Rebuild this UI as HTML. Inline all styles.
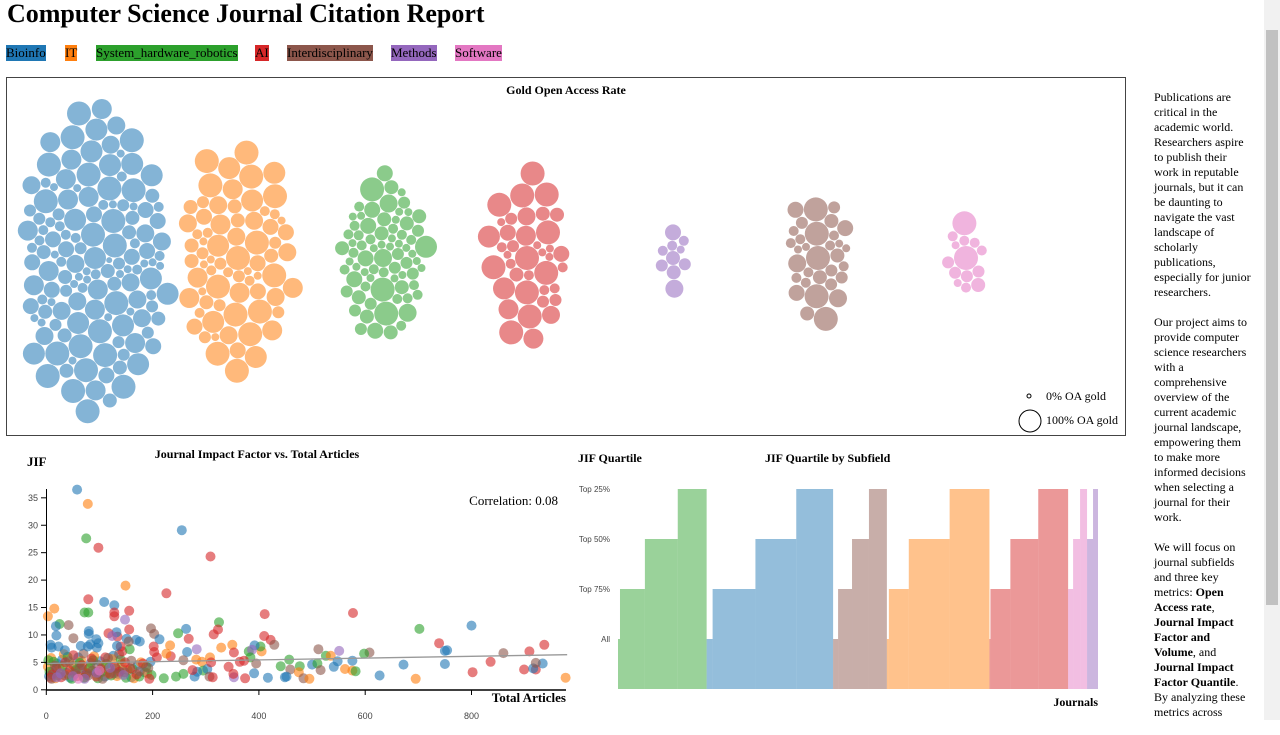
<!DOCTYPE html>
<html><head><meta charset="utf-8"><style>
html,body{margin:0;padding:0;width:1280px;height:720px;overflow:hidden;background:#fff;font-family:"Liberation Serif",serif;}
#title{position:absolute;left:7px;top:-1px;font-size:26px;font-weight:bold;margin:0;}
.chip{position:absolute;top:45px;font-size:13px;line-height:16px;padding:0;}
#side{position:absolute;left:1154px;top:90px;width:97px;font-size:12px;line-height:15px;}
#side p{margin:0 0 15px 0;}
#track{position:absolute;left:1264px;top:0;width:16px;height:720px;background:#f1f1f1;}
#thumb{position:absolute;left:1266px;top:30px;width:12px;height:575px;background:#c1c1c1;}
svg{position:absolute;left:0;top:0;}
</style></head><body>
<h1 id="title">Computer Science Journal Citation Report</h1>
<div>
<span class="chip" style="left:6px;background:#1f77b4">Bioinfo</span>
<span class="chip" style="left:65px;background:#ff7f0e">IT</span>
<span class="chip" style="left:96px;background:#2ca02c">System_hardware_robotics</span>
<span class="chip" style="left:255px;background:#d62728">AI</span>
<span class="chip" style="left:287px;background:#8c564b">Interdisciplinary</span>
<span class="chip" style="left:391px;background:#9467bd">Methods</span>
<span class="chip" style="left:455px;background:#e377c2">Software</span>
</div>
<div id="side">
<p>Publications are critical in the academic world. Researchers aspire to publish their work in reputable journals, but it can be daunting to navigate the vast landscape of scholarly publications, especially for junior researchers.</p>
<p>Our project aims to provide computer science researchers with a comprehensive overview of the current academic journal landscape, empowering them to make more informed decisions when selecting a journal for their work.</p>
<p>We will focus on journal subfields and three key metrics: <b>Open Access rate</b>, <b>Journal Impact Factor and Volume</b>, and <b>Journal Impact Factor Quantile</b>. By analyzing these metrics across</p>
</div>
<div id="track"></div>
<div id="thumb"></div>
<svg id="chart" width="1280" height="720"></svg>
<script>
const NS="http://www.w3.org/2000/svg";
const svg=document.getElementById('chart');
function mk(tag,attrs,parent){const e=document.createElementNS(NS,tag);for(const k in attrs)e.setAttribute(k,attrs[k]);(parent||svg).appendChild(e);return e;}
const COL={b:"#1f77b4",o:"#ff7f0e",g:"#2ca02c",r:"#d62728",p:"#9467bd",n:"#8c564b",k:"#e377c2"};

// ---------- Bubble chart data (OA rate in tenths, a = 10) ----------
const bubbleGroups=["b","o","g","r","p","n","k"];
const bubbleCenters=[95,238,383,527,673,818,966];
const oaBlue="9a3285a42736a285319a4726385a2934a7263852a4937265a832946a2738a5294736a8253a9472638a5294736a28539a4726385a2946a3728a5394726a38529a4736285a9";
const oaOrange="a4738a2956a3847a2659a3748a2563a9472a3856a2947a3658a2749a3568a247394a2856";
const oaGreen="73225324a4263252362a25334236227343562523a342523732435226342593423453236254";
const oaRed="a83a52a4723a6293a4a25a8234a6a3729a458a3";
const oaPurple="5532643473";
const oaBrown="a5a33a4275343a3524637243a3563426";
const oaPink="a4334a42353243";
const oaSeries=[oaBlue,oaOrange,oaGreen,oaRed,oaPurple,oaBrown,oaPink];
const bubbleCY=258;
function rOf(v){return 2+v*1.0;}
const gBub=mk('g',{});


mk('rect',{x:6.5,y:77.5,width:1119,height:358,fill:'none',stroke:'#444','stroke-width':1},gBub);
const bt=mk('text',{x:566,y:94,'text-anchor':'middle','font-size':12,'font-weight':'bold'},gBub);bt.textContent="Gold Open Access Rate";


oaSeries.forEach((str,gi)=>{
  const vals=str.split('').map(c=>c==='a'?10:parseInt(c,10));
  const cx=bubbleCenters[gi];const placed=[];
  vals.forEach(v=>{
    const r=rOf(v);let done=false;
    for(let s=0;s<500&&!done;s+=0.4){
      const n=Math.max(1,Math.ceil(2*Math.PI*s/0.8));
      for(let i=0;i<n;i++){
        const th=i/n*2*Math.PI+s*0.37;
        const x=cx+s*0.5*Math.cos(th),y=bubbleCY+s*Math.sin(th);
        let ok=true;
        for(const q of placed){const dx=q.x-x,dy=q.y-y;if(dx*dx+dy*dy<(q.r+r+0.3)*(q.r+r+0.3)){ok=false;break;}}
        if(ok){placed.push({x,y,r});done=true;break;}
      }
    }
  });
  placed.forEach(p=>{
    const c=mk('circle',{cx:p.x.toFixed(1),cy:p.y.toFixed(1),r:p.r,fill:COL[bubbleGroups[gi]],'fill-opacity':0.55},gBub);
    
    
  });
});
const l1=mk('circle',{cx:1029,cy:396,r:2,fill:'none',stroke:'#000'},gBub);


const l2=mk('circle',{cx:1030,cy:421,r:11,fill:'none',stroke:'#000'},gBub);


let t=mk('text',{x:1046,y:400,'font-size':12},gBub);t.textContent="0% OA gold";


t=mk('text',{x:1046,y:424,'font-size':12},gBub);t.textContent="100% OA gold";



// ---------- Scatter data ----------
const xTicks=[0,200,400,600,800];
const yTicks=[0,5,10,15,20,25,30,35];
const trendStart=4.8, trendEnd=6.4, trendMax=980;
const ptColors="bogrbrorrbbooggrrrpgrrngbbgnnrgbrrrnrpbboorrrbbnnpnggoogg"+"bprrgnbgggnobbnobbgnbbobogbbobrrrrbbnoorrrrobnoogbnrorrprrrbbgggrrrrbrpbgbbrnnb";
const ptX=[58,78,75,98,255,309,149,226,79,109,128,15,3,72,79,128,128,156,148,325,411,577,42,25,18,263,248,197,203,323,702,800,315,410,422,429,268,283,213,176,350,329,739,937,909,750,754,860,512,551,608,598,526,535,405,403,
381,392,387,353,364,384,395,391,457,441,477,459,475,452,449,484,495,417,500,510,516,541,548,562,576,576,582,627,672,695,750,802,836,899,921,916,934,921,977,233,202,203,208,234,226,265,258,282,293,295,303,307,313,308,310,343,353,352,372,374,284,279,221,244,258,275,140,143,134,132,117,124,133,157,169,151,156,155,51,83,78,95,65,94,80,80,19,10,8,23,35,98];
const ptY=[36.5,33.9,27.6,25.9,29.1,24.3,19,17.6,16.5,16,15.4,14.8,13.4,14.1,14.1,14.1,13.4,14.4,12.8,12.3,13.8,14,11.8,12,11.6,11.1,10.3,11.2,10.2,11,11.1,11.7,10.1,9.8,9.1,8.2,9.3,7.4,9.2,8.8,8.2,7.7,8.5,8.2,7,7.1,7.2,6.7,7.4,7.1,6.8,6.6,6.2,6.2,7,7.9,
7,8.1,7.3,6.8,5.1,5.9,4.8,3,5.5,4.3,4.3,3.7,3.2,2.4,2.3,2.1,2,2.2,4.6,4.8,3.6,4.2,5.2,3.8,5.3,3.5,3.4,2.6,4.6,2,4.7,3.2,5.1,3.7,3.7,3.9,4.8,4.9,2.2,8.1,7.9,6.9,5.9,6.1,6.6,6.9,5.4,5.5,5.1,3.5,3.8,2.4,2.3,5.9,5,4.2,2.3,2.9,5.3,2.1,3.3,2.4,2.1,2.4,2.9,3.6,7.9,7,9.7,10.5,10.3,9.8,8,7.4,9.1,9.3,11,8.8,9.4,8.3,7.9,7.7,8,9.2,10.7,10.2,9.9,7.7,8.2,7.9,7.2,8.5];
const clusterColors="bbbbbbbbbbbbbbbbbbbbbboooooooooooooooooooooogggggggggggggggggggggggrrrrrrrrrrrrrrrrrrrrrrnnnnnnnnnnnnnnnnnnnpppppppkkk";
const clusterX=[5,12,20,30,38,45,52,60,68,75,84,92,101,110,118,126,135,144,160,172,185,196,
3,9,17,25,33,41,49,57,66,73,81,90,98,107,115,124,133,142,153,165,178,190,
6,14,22,31,40,48,55,63,71,80,88,97,105,113,122,131,140,150,162,175,188,198,
4,11,19,28,36,44,51,59,67,76,85,94,103,111,120,129,138,148,158,170,182,194,
8,16,26,35,43,54,62,70,79,87,96,106,116,127,137,147,160,176,192,
10,27,50,72,95,120,145,20,60,100];
const clusterY=[2.5,3.4,4.8,5.5,3.1,2.2,4.4,5.9,3.8,2.7,4.9,3.3,5.2,2.4,4.1,6.2,2.9,3.7,2.3,4.5,3.2,5.1,
4.2,5.8,2.1,3.9,6.5,2.8,4.6,3.4,5.3,2.3,4,6.1,2.9,4.4,3.1,5.6,2.5,4.8,3.6,2.1,5,3,
3.3,5.1,2.6,4.3,6,2,3.6,4.9,2.2,3.9,5.4,2.1,3.3,4.7,2.6,3.9,5.5,2.2,3.8,2.4,4.2,2.7,
5.4,2.8,4,2.3,5,3.5,6.3,2.5,4.5,3,5.7,2.4,3.8,5.9,2.9,4.2,3.3,5,3.9,2.8,4.8,2,
2.2,4.4,3,2.6,5.2,2.9,3.9,6.6,2.6,3.5,4.6,2,5.8,3,6.5,3.2,5.3,3.4,4,
2,3,2.5,2,3.1,4,2.7,2.3,2,3.5];
const sx=v=>46.3+v*0.5315, sy=v=>689.8-v*5.485;
const gS=mk('g',{});


function drawPt(c,x,y){const e=mk('circle',{cx:sx(x).toFixed(1),cy:sy(y).toFixed(1),r:5,fill:COL[c],'fill-opacity':0.6},gS);

}
clusterX.forEach((x,i)=>drawPt(clusterColors[i],x,clusterY[i]));
ptX.forEach((x,i)=>drawPt(ptColors[i]||'b',x,ptY[i]));
const tl=mk('line',{x1:sx(0),y1:sy(trendStart),x2:sx(trendMax),y2:sy(trendEnd),stroke:'#999','stroke-width':1.3},gS);


const ya=mk('line',{x1:46.5,y1:489,x2:46.5,y2:690,stroke:'#000'},gS);


const xa=mk('line',{x1:46,y1:690,x2:566,y2:690,stroke:'#000','stroke-width':1.5},gS);


yTicks.forEach(v=>{mk('line',{x1:41,x2:46,y1:sy(v),y2:sy(v),stroke:'#000'},gS);
const e=mk('text',{x:38,y:sy(v)+3,'text-anchor':'end','font-size':9,fill:'#444','font-family':'Liberation Sans'},gS);e.textContent=v;

});
xTicks.forEach(v=>{mk('line',{x1:sx(v),x2:sx(v),y1:690,y2:695,stroke:'#000'},gS);
const e=mk('text',{x:sx(v),y:719,'text-anchor':'middle','font-size':9,fill:'#444','font-family':'Liberation Sans'},gS);e.textContent=v;

});
t=mk('text',{x:257,y:458,'text-anchor':'middle','font-size':12,'font-weight':'bold'},gS);t.textContent="Journal Impact Factor vs. Total Articles";


t=mk('text',{x:27,y:466,'font-size':13,'font-weight':'bold'},gS);t.textContent="JIF";


t=mk('text',{x:558,y:505,'text-anchor':'end','font-size':13},gS);t.textContent="Correlation: 0.08";


t=mk('text',{x:566,y:702,'text-anchor':'end','font-size':13,'font-weight':'bold'},gS);t.textContent="Total Articles";



// ---------- Quartile chart data ----------
const qGroups=["g","b","n","o","r","k","p"];
const qAll=[2,6,5,2,1,0,0];
const qTop75=[25,43,14,20,20,5,0];
const qTop50=[33,41,17,41,28,7,6];
const qTop25=[29,37,18,40,30,7,5];
const qLabels=["All","Top 75%","Top 50%","Top 25%"];
const gQ=mk('g',{});


let total=0;qGroups.forEach((g,i)=>total+=qAll[i]+qTop75[i]+qTop50[i]+qTop25[i]);
const qx0=618,qx1=1098,qBase=689,qStep=50;
const qx=n=>qx0+n*(qx1-qx0)/total;
let cum=0;
qGroups.forEach((g,i)=>{
  [qAll[i],qTop75[i],qTop50[i],qTop25[i]].forEach((cnt,lvl)=>{
    if(cnt>0){const x=qx(cum),w=qx(cum+cnt)-x;
      const e=mk('rect',{x:x.toFixed(2),y:qBase-(lvl+1)*qStep,width:w.toFixed(2),height:(lvl+1)*qStep,fill:COL[g],'fill-opacity':0.48},gQ);
      
      }
    cum+=cnt;
  });
});
qLabels.forEach((l,i)=>{const e=mk('text',{x:610,y:qBase-(i+1)*qStep+3,'text-anchor':'end','font-size':8,fill:'#444','font-family':'Liberation Sans'},gQ);e.textContent=l;

});
t=mk('text',{x:578,y:462,'font-size':12,'font-weight':'bold'},gQ);t.textContent="JIF Quartile";


t=mk('text',{x:765,y:462,'font-size':12,'font-weight':'bold'},gQ);t.textContent="JIF Quartile by Subfield";


t=mk('text',{x:1098,y:706,'text-anchor':'end','font-size':12,'font-weight':'bold'},gQ);t.textContent="Journals";


</script>
</body></html>
